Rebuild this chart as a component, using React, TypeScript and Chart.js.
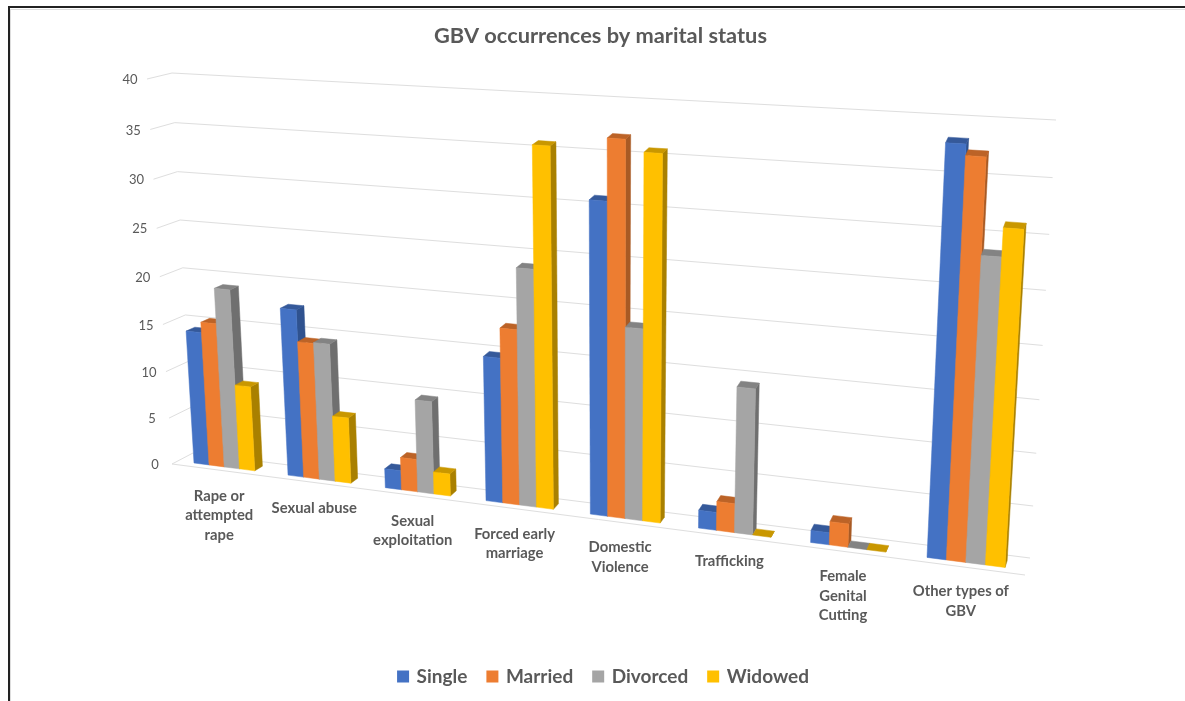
import React, { useEffect, useRef } from "react";
import { Chart, registerables } from "chart.js";

Chart.register(...registerables);

const categories = [
  ["Rape or", "attempted", "rape"],
  ["Sexual abuse"],
  ["Sexual", "exploitation"],
  ["Forced early", "marriage"],
  ["Domestic", "Violence"],
  ["Trafficking"],
  ["Female", "Genital", "Cutting"],
  ["Other types of", "GBV"],
];
const single = [14.2, 17.6, 2, 14.8, 31, 1.8, 1.2, 38.4];
const married = [15.3, 14.3, 3.4, 17.8, 36.9, 2.9, 2.3, 37.4];
const divorced = [19, 14.4, 9.6, 23.9, 19.1, 14.4, 0, 28.7];
const widowed = [9, 6.9, 2.3, 35.8, 35.8, 0, 0, 31.3];

const seriesNames = ["Single", "Married", "Divorced", "Widowed"];
const frontColors = ["#4472C4", "#ED7D31", "#A5A5A5", "#FFC000"];
const sideColors = ["#2F528F", "#A85A24", "#6F6F6F", "#A98000"];
const topColors = ["#35599A", "#BC6327", "#838383", "#C99700"];

const TEXT = "#595959";
const GRID = "#dedede";
const FONT = "Lato";

type Pt = [number, number];

// Square-to-quad homography; corners are bottom-left, bottom-right, top-right, top-left.
function quadMap(a: Pt, b: Pt, c: Pt, d: Pt) {
  const dx1 = b[0] - c[0], dx2 = d[0] - c[0], sx = a[0] - b[0] + c[0] - d[0];
  const dy1 = b[1] - c[1], dy2 = d[1] - c[1], sy = a[1] - b[1] + c[1] - d[1];
  const den = dx1 * dy2 - dx2 * dy1;
  const g = (sx * dy2 - dx2 * sy) / den;
  const h = (dx1 * sy - sx * dy1) / den;
  return (u: number, v: number): Pt => {
    const w = g * u + h * v + 1;
    return [
      ((b[0] - a[0] + g * b[0]) * u + (d[0] - a[0] + h * d[0]) * v + a[0]) / w,
      ((b[1] - a[1] + g * b[1]) * u + (d[1] - a[1] + h * d[1]) * v + a[1]) / w,
    ];
  };
}

const backWall = quadMap([193, 453], [1030, 558], [1056, 120], [172, 73]);
const frontPlane = quadMap([172, 464], [1025, 575], [1051, 135], [147, 79]);

// u along the categories, v up the value axis, d from back wall (0) to floor edge (1).
function project(u: number, v: number, d: number): Pt {
  const p = backWall(u, v);
  const q = frontPlane(u, v);
  return [p[0] + (q[0] - p[0]) * d, p[1] + (q[1] - p[1]) * d];
}

const BAR_FRONT = 0.72;
const BAR_BACK = 0.32;

function poly(ctx: CanvasRenderingContext2D, pts: Pt[], color: string) {
  ctx.beginPath();
  pts.forEach((p, i) => (i ? ctx.lineTo(p[0], p[1]) : ctx.moveTo(p[0], p[1])));
  ctx.closePath();
  ctx.fillStyle = color;
  ctx.fill();
  ctx.strokeStyle = color;
  ctx.lineWidth = 0.5;
  ctx.stroke();
}

function line(ctx: CanvasRenderingContext2D, a: Pt, b: Pt) {
  ctx.beginPath();
  ctx.moveTo(a[0], a[1]);
  ctx.lineTo(b[0], b[1]);
  ctx.stroke();
}

const pagePlugin = {
  id: "pageFrame",
  // Nudges the legend slightly right of the title's centre line.
  afterLayout(chart: any) {
    chart.legend.left += 7;
  },
  beforeDraw(chart: any) {
    const { ctx, width, height } = chart;
    ctx.save();
    ctx.fillStyle = "#ffffff";
    ctx.fillRect(0, 0, width, height);
    ctx.fillStyle = "#dddddd";
    ctx.fillRect(10, 9, width - 10, 1);
    ctx.fillRect(10, 9, 1, height - 9);
    ctx.fillStyle = "#222222";
    ctx.fillRect(8, 6, width - 8, 2);
    ctx.fillRect(8, 6, 2, height - 6);
    ctx.restore();
  },
};

// Replaces the flat bars with perspective boxes placed through the chart's own scales.
const perspectivePlugin = {
  id: "perspectiveBars",
  beforeDatasetsDraw(chart: any) {
    const { ctx, chartArea, scales } = chart;
    const { left, right, top, bottom } = chartArea;
    const toU = (x: number) => (x - left) / (right - left);
    const toV = (y: number) => (bottom - y) / (bottom - top);
    ctx.save();

    // Wall grid lines and value labels
    ctx.strokeStyle = GRID;
    ctx.lineWidth = 1;
    ctx.font = `13px ${FONT}`;
    ctx.fillStyle = TEXT;
    ctx.textAlign = "center";
    ctx.textBaseline = "middle";
    scales.y.ticks.forEach((tick: any) => {
      const v = toV(scales.y.getPixelForValue(tick.value));
      line(ctx, project(0, v, 1), project(0, v, 0));
      line(ctx, project(0, v, 0), project(1, v, 0));
      const end = project(0, v, 1);
      ctx.fillText(String(tick.value), end[0] - 17, end[1] + 1);
    });
    line(ctx, project(0, 0, 1), project(1, 0, 1));

    // Boxes, painted left to right so each one covers its neighbour's side face
    categories.forEach((_, j) => {
      chart.data.datasets.forEach((_ds: any, i: number) => {
        const el = chart.getDatasetMeta(i).data[j];
        const u0 = toU(el.x - el.width / 2);
        const u1 = toU(el.x + el.width / 2);
        const v0 = toV(el.base);
        const v1 = toV(el.y);
        const f = BAR_FRONT;
        const b = BAR_BACK;
        poly(ctx, [project(u1, v0, f), project(u1, v0, b), project(u1, v1, b), project(u1, v1, f)], sideColors[i]);
        poly(ctx, [project(u0, v1, f), project(u1, v1, f), project(u1, v1, b), project(u0, v1, b)], topColors[i]);
        if (v1 > v0) {
          poly(ctx, [project(u0, v0, f), project(u1, v0, f), project(u1, v1, f), project(u0, v1, f)], frontColors[i]);
        }
      });
    });

    // Category labels under each cluster
    ctx.font = `bold 14.8px ${FONT}`;
    ctx.fillStyle = TEXT;
    ctx.textBaseline = "middle";
    categories.forEach((lines, j) => {
      const u = toU(scales.x.getPixelForTick(j));
      const base = project(u, 0, BAR_FRONT);
      lines.forEach((text, k) => {
        ctx.fillText(text, base[0] - 5, base[1] + 29 + k * 19.5);
      });
    });

    ctx.restore();
    return false;
  },
};

export default function App() {
  const ref = useRef<HTMLCanvasElement>(null);

  useEffect(() => {
    const values = [single, married, divorced, widowed];
    const chart = new Chart(ref.current as HTMLCanvasElement, {
      type: "bar",
      data: {
        labels: categories.map((c) => c.join(" ")),
        datasets: seriesNames.map((label, i) => ({
          label,
          data: values[i],
          backgroundColor: frontColors[i],
          borderWidth: 0,
          barPercentage: 1,
          categoryPercentage: 0.65,
        })),
      },
      options: {
        responsive: false,
        animation: false,
        layout: { padding: { left: 16, bottom: 5 } },
        scales: {
          x: { display: false },
          y: { display: false, min: 0, max: 40, ticks: { stepSize: 5 } },
        },
        plugins: {
          tooltip: { enabled: false },
          title: {
            display: true,
            text: "GBV occurrences by marital status",
            color: TEXT,
            font: { family: FONT, size: 21.8, weight: "bold" },
            padding: { top: 23, bottom: 10 },
          },
          legend: {
            position: "bottom",
            labels: {
              color: TEXT,
              font: { family: FONT, size: 19, weight: "bold" },
              // An 8px swatch with a 4px same-colour outline reads as a 12px square
              // while keeping the label close to it.
              boxWidth: 8,
              boxHeight: 8,
              padding: 21,
              generateLabels: (chart: any) =>
                Chart.defaults.plugins.legend.labels
                  .generateLabels(chart)
                  .map((item: any) => ({ ...item, lineWidth: 4, strokeStyle: item.fillStyle })),
            },
          },
        },
      },
      plugins: [pagePlugin, perspectivePlugin],
    } as any);
    return () => chart.destroy();
  }, []);

  return (
    <div style={{ position: "absolute", left: 0, top: 0, width: 1185, height: 701 }}>
      <canvas ref={ref} width={1185} height={701} style={{ display: "block" }} />
    </div>
  );
}
